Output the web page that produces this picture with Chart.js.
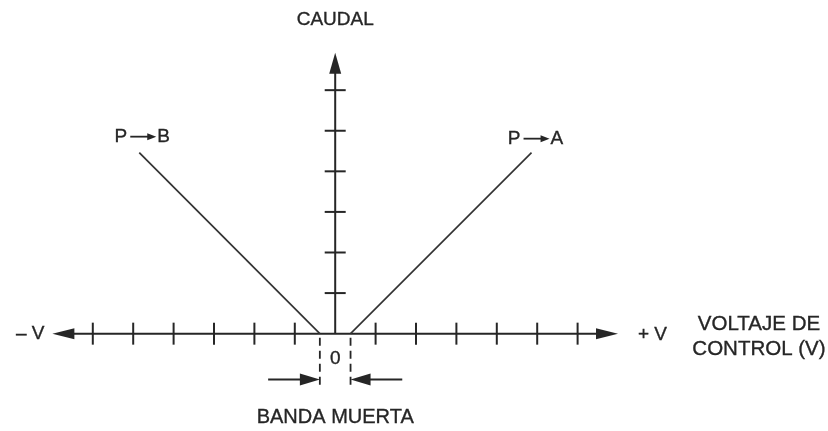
<!DOCTYPE html>
<html>
<head>
<meta charset="utf-8">
<script src="https://cdn.jsdelivr.net/npm/chart.js@4"></script>
<style>
  html, body { margin: 0; padding: 0; background: #fff; }
  canvas { display: block; }
</style>
</head>
<body>
<canvas id="valveChart" width="828" height="431"></canvas>
<script>
// control voltage ticks (both sides of zero) and flow ticks
const xTicks = [-6, -5, -4, -3, -2, -1, 1, 2, 3, 4, 5, 6];
const yTicks = [1, 2, 3, 4, 5, 6];
const deadBand = 0.38;
const xAxisEnd = 7;
const yAxisEnd = 6.92;

// flow curves P->B (negative voltage) and P->A (positive voltage)
const flowBX = [-0.38, -4.85];
const flowBY = [0, 4.46];
const flowAX = [0.38, 4.86];
const flowAY = [0, 4.46];

const INK = '#262626';
const FAMILY = '"Liberation Sans", Arial, sans-serif';

const toPoints = (xs, ys) => xs.map((x, i) => ({ x: x, y: ys[i] }));

function arrowHead(ctx, tipX, tipY, dx, dy, len, half) {
  const bx = tipX - dx * len, by = tipY - dy * len;
  ctx.beginPath();
  ctx.moveTo(tipX, tipY);
  ctx.lineTo(bx - dy * half, by + dx * half);
  ctx.lineTo(bx + dy * half, by - dx * half);
  ctx.closePath();
  ctx.fill();
}

function line(ctx, x1, y1, x2, y2) {
  ctx.beginPath();
  ctx.moveTo(x1, y1);
  ctx.lineTo(x2, y2);
  ctx.stroke();
}

// text with a hairline outline so it reads as heavy as the drawing
function label(ctx, text, x, y, size) {
  ctx.font = size + 'px ' + FAMILY;
  ctx.lineWidth = 0.35;
  ctx.fillText(text, x, y);
  ctx.strokeText(text, x, y);
}

// "P -> B" style label centred on cx
function flowLabel(ctx, cx, cy, from, to) {
  ctx.font = '19px ' + FAMILY;
  const wFrom = ctx.measureText(from).width;
  const wTo = ctx.measureText(to).width;
  const arrowLen = 26;
  const total = wFrom + 3 + arrowLen + 1 + wTo;
  let px = cx - total / 2;
  ctx.textAlign = 'left';
  label(ctx, from, px, cy, 19);
  px += wFrom + 3;
  ctx.lineWidth = 1.8;
  line(ctx, px, cy, px + arrowLen - 6, cy);
  arrowHead(ctx, px + arrowLen, cy, 1, 0, 9, 3.5);
  px += arrowLen + 1;
  label(ctx, to, px, cy, 19);
}

const axesPlugin = {
  id: 'crossAxes',
  beforeDatasetsDraw(chart) {
    const { ctx, scales: { x, y } } = chart;
    const x0 = x.getPixelForValue(0);
    const y0 = y.getPixelForValue(0);
    ctx.save();
    ctx.strokeStyle = INK;
    ctx.fillStyle = INK;
    ctx.lineWidth = 2;

    // voltage axis with arrows at both ends
    const xl = x.getPixelForValue(-xAxisEnd);
    const xr = x.getPixelForValue(xAxisEnd);
    line(ctx, xl + 12, y0, xr - 12, y0);
    arrowHead(ctx, xl, y0, -1, 0, 22, 5.5);
    arrowHead(ctx, xr, y0, 1, 0, 22, 5.5);
    xTicks.forEach(v => {
      const px = x.getPixelForValue(v);
      line(ctx, px, y0 - 11, px, y0 + 11);
    });

    // flow axis, starts at zero
    const yt = y.getPixelForValue(yAxisEnd);
    line(ctx, x0, y0, x0, yt + 12);
    arrowHead(ctx, x0, yt, 0, -1, 21, 6);
    yTicks.forEach(v => {
      const py = y.getPixelForValue(v);
      line(ctx, x0 - 10.5, py, x0 + 10.5, py);
    });

    // dead band limits
    ctx.lineWidth = 1.8;
    ctx.setLineDash([8, 5]);
    const yDash = y.getPixelForValue(-1.36);
    [-deadBand, deadBand].forEach(v => {
      const px = x.getPixelForValue(v);
      line(ctx, px, y0 + 4, px, yDash);
    });
    ctx.setLineDash([]);

    // arrows pointing into the dead band
    const yArr = y.getPixelForValue(-1.13);
    const bl = x.getPixelForValue(-deadBand), br = x.getPixelForValue(deadBand);
    ctx.lineWidth = 1.8;
    line(ctx, x.getPixelForValue(-1.66), yArr, bl - 12, yArr);
    arrowHead(ctx, bl, yArr, 1, 0, 20, 6);
    line(ctx, x.getPixelForValue(1.66), yArr, br + 12, yArr);
    arrowHead(ctx, br, yArr, -1, 0, 20, 6);

    // text
    ctx.textBaseline = 'middle';
    ctx.textAlign = 'center';
    label(ctx, 'CAUDAL', x0, y.getPixelForValue(7.73), 19);
    label(ctx, '0', x0, y.getPixelForValue(-0.62), 19);
    label(ctx, 'BANDA MUERTA', x0, y.getPixelForValue(-2.07), 20);
    ctx.textAlign = 'right';
    label(ctx, '\u2013 V', xl - 8, y0, 19);
    ctx.textAlign = 'left';
    label(ctx, '+ V', xr + 20, y0 + 1, 19);
    ctx.textAlign = 'center';
    const vx = x.getPixelForValue(10.49);
    label(ctx, 'VOLTAJE DE', vx, y0 - 9, 20.5);
    label(ctx, 'CONTROL (V)', vx, y0 + 16, 20.5);

    const bTop = { x: x.getPixelForValue(flowBX[1]), y: y.getPixelForValue(flowBY[1]) };
    const aTop = { x: x.getPixelForValue(flowAX[1]), y: y.getPixelForValue(flowAY[1]) };
    flowLabel(ctx, bTop.x + 3, bTop.y - 16, 'P', 'B');
    flowLabel(ctx, aTop.x + 4, aTop.y - 14, 'P', 'A');
    ctx.restore();
  }
};

const ctx = document.getElementById('valveChart').getContext('2d');
const valveChart = new Chart(ctx, {
  type: 'scatter',
  data: {
    datasets: [
      {
        label: 'P-B',
        data: toPoints(flowBX, flowBY),
        showLine: true,
        borderColor: '#333',
        borderWidth: 1.7,
        pointRadius: 0
      },
      {
        label: 'P-A',
        data: toPoints(flowAX, flowAY),
        showLine: true,
        borderColor: '#333',
        borderWidth: 1.7,
        pointRadius: 0
      }
    ]
  },
  options: {
    responsive: false,
    animation: false,
    layout: { padding: { left: 12, right: 8, top: 9, bottom: 4 } },
    plugins: { legend: { display: false }, tooltip: { enabled: false } },
    scales: {
      x: { type: 'linear', min: -8, max: 12, display: false },
      y: { type: 'linear', min: -2.3, max: 8, display: false }
    }
  },
  plugins: [axesPlugin]
});
</script>
</body>
</html>
